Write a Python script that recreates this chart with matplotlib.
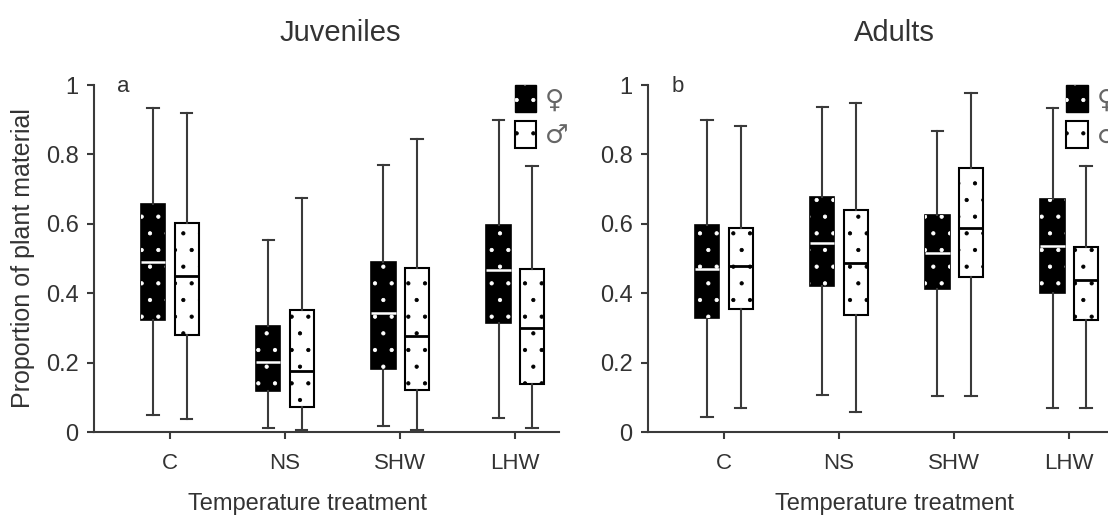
import matplotlib
matplotlib.use("Agg")
import matplotlib.pyplot as plt
from matplotlib.patches import Patch, PathPatch
from matplotlib.legend_handler import HandlerTuple

plt.rcParams['font.family'] = ['Liberation Sans', 'DejaVu Sans']
plt.rcParams['hatch.linewidth'] = 0.6

treatments = ['C', 'NS', 'SHW', 'LHW']

# juveniles: whisker low, q1, median, q3, whisker high
juv_female_lo = [0.048, 0.011, 0.017, 0.040]
juv_female_q1 = [0.324, 0.117, 0.182, 0.314]
juv_female_med = [0.490, 0.202, 0.344, 0.466]
juv_female_q3 = [0.657, 0.306, 0.490, 0.596]
juv_female_hi = [0.933, 0.553, 0.769, 0.899]

juv_male_lo = [0.037, 0.005, 0.005, 0.011]
juv_male_q1 = [0.281, 0.072, 0.120, 0.139]
juv_male_med = [0.449, 0.176, 0.276, 0.300]
juv_male_q3 = [0.601, 0.351, 0.473, 0.471]
juv_male_hi = [0.920, 0.673, 0.844, 0.766]

# adults
ad_female_lo = [0.043, 0.106, 0.103, 0.070]
ad_female_q1 = [0.329, 0.421, 0.412, 0.402]
ad_female_med = [0.471, 0.545, 0.516, 0.537]
ad_female_q3 = [0.598, 0.678, 0.625, 0.672]
ad_female_hi = [0.899, 0.936, 0.868, 0.933]

ad_male_lo = [0.070, 0.058, 0.103, 0.070]
ad_male_q1 = [0.354, 0.338, 0.447, 0.324]
ad_male_med = [0.478, 0.488, 0.589, 0.438]
ad_male_q3 = [0.588, 0.639, 0.760, 0.534]
ad_male_hi = [0.882, 0.947, 0.976, 0.766]

line_col = '#3a3a3a'
text_col = '#333333'


def make_stats(lo, q1, med, q3, hi):
    return [dict(whislo=a, q1=b, med=c, q3=d, whishi=e, fliers=[])
            for a, b, c, d, e in zip(lo, q1, med, q3, hi)]


def draw_panel(ax, female, male, title, letter, xlab_x, title_x, leg_x):
    pos = list(range(len(treatments)))
    off = 0.145
    common = dict(widths=0.21, patch_artist=True, showfliers=False,
                  whiskerprops=dict(color=line_col, lw=1.5),
                  capprops=dict(color=line_col, lw=1.5), capwidths=0.1)
    bf = ax.bxp(make_stats(*female), positions=[p - off for p in pos],
                boxprops=dict(facecolor='black', edgecolor='black', lw=1.2),
                medianprops=dict(color='white', lw=1.8), **common)
    for b in bf['boxes']:
        ax.add_patch(PathPatch(b.get_path(), facecolor='none', edgecolor='white',
                               hatch='.', lw=0, transform=ax.transData, zorder=b.get_zorder() + 0.1))
    ax.bxp(make_stats(*male), positions=[p + off for p in pos],
           boxprops=dict(facecolor='white', edgecolor='black', lw=1.5, hatch='.'),
           medianprops=dict(color='black', lw=2), **common)

    ax.set_xlim(-0.66, 3.38)
    ax.set_ylim(0, 1)
    ax.set_xticks(pos)
    ax.set_xticklabels(treatments, fontsize=16, color=text_col)
    ax.set_yticks([0, 0.2, 0.4, 0.6, 0.8, 1])
    ax.set_yticklabels(['0', '0.2', '0.4', '0.6', '0.8', '1'], fontsize=17, color=text_col)
    ax.tick_params(axis='both', direction='out', length=5, width=1.5, color=line_col)
    ax.tick_params(axis='x', pad=10)
    ax.tick_params(axis='y', pad=6)
    for s in ['top', 'right']:
        ax.spines[s].set_visible(False)
    for s in ['left', 'bottom']:
        ax.spines[s].set_color(line_col)
        ax.spines[s].set_linewidth(1.5)
    ax.set_xlabel('Temperature treatment', fontsize=17, color=text_col)
    ax.xaxis.set_label_coords(xlab_x, -0.175)
    ax.text(title_x, 1.15, title, transform=ax.transAxes, ha='center', va='center',
            fontsize=21, color=text_col)
    ax.text(0.05, 0.995, letter, transform=ax.transAxes, ha='left', va='center',
            fontsize=16, color=text_col)

    h_f = (Patch(facecolor='black', edgecolor='black'),
           Patch(facecolor='none', edgecolor='white', hatch='.', lw=0))
    h_m = Patch(facecolor='white', edgecolor='black', hatch='.', lw=1.5)
    ax.legend([h_f, h_m], ['\u2640', '\u2642'], handler_map={tuple: HandlerTuple(ndivide=1, pad=0)},
              loc='upper left', bbox_to_anchor=(leg_x, 1.0), frameon=False,
              prop=dict(family='DejaVu Sans', size=19),
              handlelength=0.8, handleheight=1.2, handletextpad=0.35, labelspacing=0.3,
              borderpad=0, borderaxespad=0, labelcolor='#666666')


fig = plt.figure(figsize=(11.08, 5.19), dpi=100)
ax1 = fig.add_axes([0.0848, 0.1676, 0.4197, 0.6686])
ax2 = fig.add_axes([0.5848, 0.1676, 0.4197, 0.6686])

draw_panel(ax1,
           (juv_female_lo, juv_female_q1, juv_female_med, juv_female_q3, juv_female_hi),
           (juv_male_lo, juv_male_q1, juv_male_med, juv_male_q3, juv_male_hi),
           'Juveniles', 'a', 0.46, 0.53, 0.905)
draw_panel(ax2,
           (ad_female_lo, ad_female_q1, ad_female_med, ad_female_q3, ad_female_hi),
           (ad_male_lo, ad_male_q1, ad_male_med, ad_male_q3, ad_male_hi),
           'Adults', 'b', 0.53, 0.53, 0.9)
ax1.set_ylabel('Proportion of plant material', fontsize=18, color=text_col, labelpad=8)

fig.savefig('out.png', dpi=100)
